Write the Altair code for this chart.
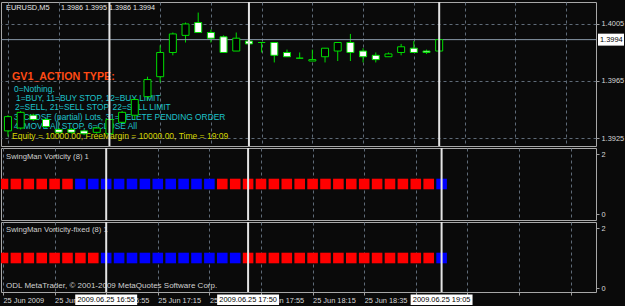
import json
import altair as alt
import pandas as pd

# ---------------- data ----------------
times = ["16:15", "16:20", "16:25", "16:30", "16:35", "16:40", "16:45", "16:50",
         "16:55", "17:00", "17:05", "17:10", "17:15", "17:20", "17:25", "17:30",
         "17:35", "17:40", "17:45", "17:50", "17:55", "18:00", "18:05", "18:10",
         "18:15", "18:20", "18:25", "18:30", "18:35", "18:40", "18:45", "18:50",
         "18:55", "19:00", "19:05"]
opens = [1.3930, 1.3932, 1.3941, 1.3938, 1.3931, 1.3931, 1.3930, 1.3929,
         1.3928, 1.3936, 1.3941, 1.3954, 1.3968, 1.3985, 1.3997, 1.4006,
         1.3999, 1.3996, 1.3986, 1.3993, 1.3992, 1.3992, 1.3985, 1.3981,
         1.3979, 1.3982, 1.3986, 1.3992, 1.3986, 1.3983, 1.3982, 1.3985,
         1.3988, 1.3986, 1.3986]
highs = [1.3941, 1.3944, 1.3942, 1.3939, 1.3932, 1.3932, 1.3931, 1.3933,
         1.3940, 1.3944, 1.3953, 1.3968, 1.3990, 1.3999, 1.4006, 1.4013,
         1.4001, 1.3997, 1.3999, 1.3994, 1.3992, 1.3992, 1.3987, 1.3985,
         1.3987, 1.3988, 1.3992, 1.3998, 1.3988, 1.3985, 1.3985, 1.3991,
         1.3993, 1.3987, 1.3995]
lows = [1.3926, 1.3931, 1.3937, 1.3932, 1.3928, 1.3928, 1.3927, 1.3928,
        1.3927, 1.3935, 1.3938, 1.3951, 1.3964, 1.3983, 1.3992, 1.3999,
        1.3992, 1.3985, 1.3986, 1.3990, 1.3985, 1.3978, 1.3982, 1.3981,
        1.3979, 1.3978, 1.3979, 1.3979, 1.3978, 1.3978, 1.3982, 1.3983,
        1.3985, 1.3984, 1.3986]
closes = [1.3940, 1.3943, 1.3938, 1.3933, 1.3929, 1.3929, 1.3928, 1.3932,
          1.3938, 1.3943, 1.3952, 1.3966, 1.3985, 1.3998, 1.4005, 1.3999,
          1.3995, 1.3985, 1.3995, 1.3991, 1.3992, 1.3983, 1.3982, 1.3981,
          1.3980, 1.3988, 1.3992, 1.3985, 1.3982, 1.3980, 1.3984, 1.3989,
          1.3985, 1.3985, 1.3994]

vort1_values = [1, 1, 1, 1, 1, 1, 1, 1, 1, 1, 1, 1, 1, 1, 1, 1, 1, 1,
                1, 1, 1, 1, 1, 1, 1, 1, 1, 1, 1, 1, 1, 1, 1, 1, 1]
vort1_colors = ["red", "red", "red", "red", "red", "red",
                "blue", "blue", "blue", "blue", "blue", "blue", "blue", "blue",
                "blue", "blue", "blue",
                "red", "red", "red", "red", "red", "red", "red", "red", "red",
                "red", "red", "red", "red", "red", "red", "red", "red",
                "blue"]
vort2_values = [1, 1, 1, 1, 1, 1, 1, 1, 1, 1, 1, 1, 1, 1, 1, 1, 1, 1,
                1, 1, 1, 1, 1, 1, 1, 1, 1, 1, 1, 1, 1, 1, 1, 1, 1]
vort2_colors = ["red", "red", "red", "red", "red", "red", "red", "red",
                "blue", "blue", "blue", "blue", "blue", "blue", "blue", "blue",
                "blue", "blue", "blue",
                "red", "red", "red", "red", "red", "red", "red", "red", "red",
                "red", "red", "red", "red", "red", "red",
                "blue"]

price_ticks = [1.3925, 1.3945, 1.3965, 1.3985, 1.4005]
sub_ticks = [0, 2]
bid_price = 1.3994

axis_label_times = ["16:15", "16:35", "16:55", "17:15", "17:35", "17:55",
                    "18:15", "18:35", "18:55"]
axis_labels = ["25 Jun 2009", "25 Jun 16:35", "25 Jun 16:55", "25 Jun 17:15",
               "25 Jun 17:35", "25 Jun 17:55", "25 Jun 18:15", "25 Jun 18:35",
               "25 Jun 18:55"]
marker_times = ["16:55", "17:50", "19:05"]
marker_labels = ["2009.06.25 16:55", "2009.06.25 17:50", "2009.06.25 19:05"]

header_symbol = "EURUSD,M5"
header_ohlc = "1.3986 1.3995 1.3986 1.3994"
title_line = "GV1_ACTION TYPE:"
info_lines = ["0=Nothing.",
              "1=BUY, 11=BUY STOP, 12=BUY LIMIT",
              "2=SELL, 21=SELL STOP, 22=SELL LIMIT",
              "3=CLOSE (partial) Lots, 31=DELETE PENDING ORDER",
              "4=MOVE All STOP, 6=CLOSE All"]
equity_line = "Equity = 10000.00, FreeMargin = 10000.00, Time = 19:09"
sub1_title = "SwingMan Vorticity (8) 1"
sub2_title = "SwingMan Vorticity-fixed (8) 1"
copyright_line = "ODL MetaTrader, \u00a9 2001-2009 MetaQuotes Software Corp."

# ---------------- tables ----------------
n = len(times)
df = pd.DataFrame({
    "i": list(range(n)), "time": times,
    "open": opens, "high": highs, "low": lows, "close": closes,
    "v1": vort1_values, "c1": vort1_colors,
    "v2": vort2_values, "c2": vort2_colors,
})
df["blo"] = df[["open", "close"]].min(axis=1)
df["bhi"] = df[["open", "close"]].max(axis=1)
df["dir"] = ["bull" if c > o else "bear" for o, c in zip(opens, closes)]

markers = pd.DataFrame({"i": [times.index(t) for t in marker_times],
                        "label": marker_labels})
bid = pd.DataFrame({"price": [bid_price], "label": [f"{bid_price:.4f}"]})

# ---------------- style ----------------
FONT = "Liberation Sans"
BG = "#0a0a0a"
LIME = "#00dd00"
GRID = "#5f6b78"
AX = "#d8d8d8"
W = 595
H1, H2, H3 = 144, 72, 70

grid_ks = list(range(0, 46, 2))
lab_arr = [""] * 46
for t, l in zip(axis_label_times, axis_labels):
    lab_arr[times.index(t)] = l
label_expr = json.dumps(lab_arr) + "[round(datum.value)]"

xscale = alt.Scale(domain=[-0.155, 45.97], nice=False, zero=False)
x_hidden = alt.X("i:Q", scale=xscale,
                 axis=alt.Axis(values=grid_ks, labels=False, ticks=False, domain=False,
                               title=None, grid=True, gridColor=GRID, gridDash=[3, 3]))
x_bottom = alt.X("i:Q", scale=xscale,
                 axis=alt.Axis(values=grid_ks, labelExpr=label_expr, ticks=True, tickSize=3,
                               tickColor="#a0a0a0", domain=False, title=None, grid=True,
                               gridColor=GRID, gridDash=[3, 3], labelAlign="left",
                               labelPadding=1, labelFont=FONT, labelFontSize=7.4,
                               labelColor=AX, labelFlush=False, labelOverlap=False,
                               labelBound=False))
xi = alt.X("i:Q", scale=xscale, title=None)


def txt(s, x, y, color, size, bold=False):
    return alt.Chart(pd.DataFrame({"t": [s]})).mark_text(
        align="left", baseline="middle", font=FONT, fontSize=size,
        fontWeight="bold" if bold else "normal", color=color
    ).encode(text="t:N", x=alt.value(x), y=alt.value(y))


def vlines(h):
    return alt.Chart(markers).mark_rule(color="#e4e4e4", strokeWidth=2).encode(
        x=xi, y=alt.value(0), y2=alt.value(h))


# ---------------- panel 1 : candles ----------------
yscale1 = alt.Scale(domain=[1.39194, 1.40204], nice=False, zero=False)
base = alt.Chart(df)
wicks = base.mark_rule(color=LIME, strokeWidth=1, clip=True).encode(
    x=x_hidden,
    y=alt.Y("low:Q", scale=yscale1,
            axis=alt.Axis(orient="right", values=price_ticks, format=".4f", title=None,
                          grid=True, gridColor=GRID, gridDash=[3, 3], domain=False,
                          tickSize=3, tickColor="#a0a0a0", labelColor=AX, labelFont=FONT,
                          labelFontSize=7.4, labelPadding=2)),
    y2="high:Q")
bodies = base.mark_bar(size=7, stroke=LIME, strokeWidth=1, clip=True).encode(
    x=xi, y=alt.Y("blo:Q", scale=yscale1, title=None), y2="bhi:Q",
    fill=alt.Fill("dir:N", scale=alt.Scale(domain=["bull", "bear"],
                                           range=["#000000", "#ffffff"]), legend=None))
bidline = alt.Chart(bid).mark_rule(color="#8898a8", strokeWidth=1).encode(
    y=alt.Y("price:Q", scale=yscale1, title=None), x=alt.value(0), x2=alt.value(W))
bidbox = alt.Chart(bid).transform_calculate(
    plo="datum.price - 0.00042", phi="datum.price + 0.00042"
).mark_rect(color="#ffffff").encode(
    y=alt.Y("plo:Q", scale=yscale1, title=None), y2="phi:Q",
    x=alt.value(597), x2=alt.value(623))
bidtext = alt.Chart(bid).mark_text(align="left", baseline="middle", font=FONT,
                                   fontSize=7.4, color="#000000").encode(
    y=alt.Y("price:Q", scale=yscale1, title=None), x=alt.value(599), text="label:N")

texts1 = [txt(header_symbol, 5, 6, "#e6e6e6", 7.4),
          txt(header_ohlc, 60, 6, "#e6e6e6", 7.2),
          txt(title_line, 11, 74.7, "#ff4a14", 10.7, bold=True)]
info_y = [86.7, 95.8, 105, 115, 124]
info_x = [13, 15, 14, 13, 13]
for s, yy, xx in zip(info_lines, info_y, info_x):
    texts1.append(txt(s, xx, yy, "#1ec4cc", 8.4))
texts1.append(txt(equity_line, 11, 134, "#d6d600", 8.5))

panel1 = alt.layer(wicks, bidline, *texts1, bodies, bidbox, bidtext, vlines(H1)
                   ).properties(width=W, height=H1)

# ---------------- panels 2 and 3 : vorticity ----------------
colscale = alt.Scale(domain=["red", "blue"], range=["#ff0000", "#0000ff"])


def sub_axis():
    return alt.Axis(orient="right", values=sub_ticks, format="d", title=None, grid=False,
                    domain=False, tickSize=3, tickColor="#a0a0a0", labelColor=AX,
                    labelFont=FONT, labelFontSize=7.4, labelPadding=2)


sq2 = alt.Chart(df).mark_square(size=112, opacity=1, clip=True).encode(
    x=x_hidden,
    y=alt.Y("v1:Q", scale=alt.Scale(domain=[-0.2, 2.2], nice=False, zero=False),
            axis=sub_axis()),
    color=alt.Color("c1:N", scale=colscale, legend=None))
panel2 = alt.layer(sq2, txt(sub1_title, 5, 9, "#d0d0d0", 7.7), vlines(H2)
                   ).properties(width=W, height=H2)

sq3 = alt.Chart(df).mark_square(size=112, opacity=1, clip=True).encode(
    x=x_bottom,
    y=alt.Y("v2:Q", scale=alt.Scale(domain=[-4 / 30, 2.2], nice=False, zero=False),
            axis=sub_axis()),
    color=alt.Color("c2:N", scale=colscale, legend=None))
datebox = alt.Chart(markers).transform_calculate(
    blo="datum.i - 2.4", bhi="datum.i + 2.4"
).mark_rect(color="#ffffff").encode(
    x=alt.X("blo:Q", scale=xscale, title=None), x2="bhi:Q",
    y=alt.value(72.5), y2=alt.value(83))
datetext = alt.Chart(markers).mark_text(align="center", baseline="middle", font=FONT,
                                        fontSize=7.4, color="#000000").encode(
    x=xi, y=alt.value(78), text="label:N")
panel3 = alt.layer(sq3, txt(sub2_title, 5, 8, "#d0d0d0", 7.7),
                   txt(copyright_line, 5, 64, "#d0d0d0", 8.0),
                   vlines(H3), datebox, datetext
                   ).properties(width=W, height=H3)

chart = alt.vconcat(panel1, panel2, panel3, spacing=2, bounds="flush").properties(
    background=BG, padding={"top": 0, "left": 0, "right": 0, "bottom": 0}
).configure_view(stroke="#a8a8a8", strokeWidth=1, fill=BG
).configure_concat(spacing=2)

chart.save("out.html", embed_options={"renderer": "svg", "actions": False})
